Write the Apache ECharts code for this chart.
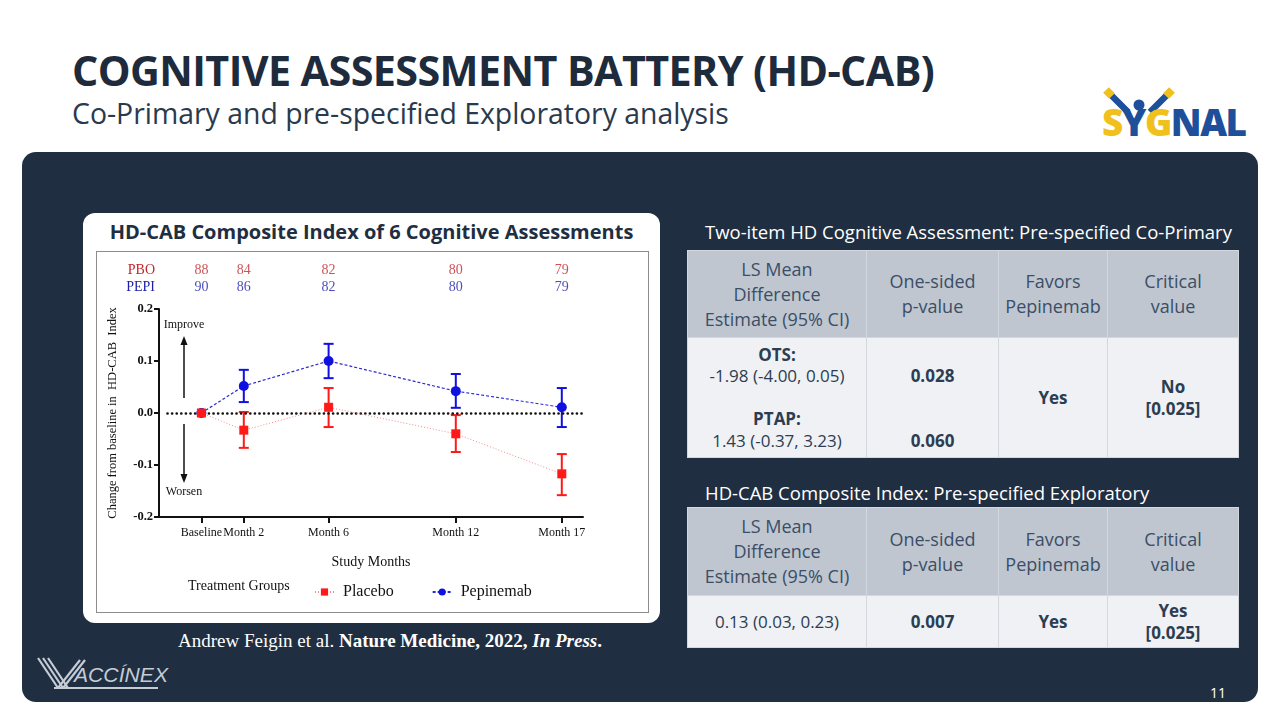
<!DOCTYPE html>
<html><head><meta charset="utf-8">
<script src="https://cdn.jsdelivr.net/npm/echarts@6/dist/echarts.min.js"></script>
<style>
body{margin:0;width:1280px;height:720px;position:relative;background:#fff;overflow:hidden;font-family:"Open Sans",sans-serif;}
.abs{position:absolute;}
#title{left:72px;top:42px;font-size:41.3px;font-weight:700;color:#1e2b3c;letter-spacing:-0.6px;white-space:nowrap;}
#sub{left:72px;top:94px;font-size:28.4px;color:#2a3a4e;white-space:nowrap;}
#panel{left:22px;top:152px;width:1236px;height:550px;background:#1f2e41;border-radius:14px;}
#card{left:83px;top:213px;width:577px;height:410px;background:#fff;border-radius:12px;}
#cardtitle{left:83px;top:218px;width:577px;text-align:center;font-size:20px;font-weight:700;color:#1f2e41;white-space:nowrap;}
#box{left:96px;top:251px;width:551px;height:360px;border:1.5px solid #8c8c8c;}
#chart{position:absolute;left:0;top:0;width:551px;height:360px;}
.hd{color:#fff;font-size:18.5px;white-space:nowrap;}
table{position:absolute;border-collapse:collapse;table-layout:fixed;width:551px;left:687px;font-family:"Open Sans",sans-serif;}
th{background:#bfc6d0;color:#3b4e66;font-weight:400;font-size:18px;line-height:25px;padding:0;}
td{background:#eff1f4;color:#2c3d52;font-size:17px;line-height:21.5px;padding:0;text-align:center;}
table,th,td{border:1px solid #d3d8de;}
b{font-weight:700;}
#cite{left:178px;top:630px;font-family:"Liberation Serif",serif;font-size:19px;color:#fff;white-space:nowrap;}
#pg{left:1210px;top:683px;color:#fff;font-size:14px;}
#signal{left:1102px;top:100px;font-family:"Open Sans",sans-serif;font-weight:800;font-size:37px;letter-spacing:-1.5px;white-space:nowrap;line-height:44px;}
</style></head>
<body>
<div id="title" class="abs">COGNITIVE ASSESSMENT BATTERY (HD-CAB)</div>
<div id="sub" class="abs">Co-Primary and pre-specified Exploratory analysis</div>
<svg class="abs" style="left:1100px;top:86px" width="90" height="30" viewBox="0 0 90 30">
<path d="M10 8 L28 26 M68 8 L50 26" stroke="#1d4f9a" stroke-width="6.5" fill="none"/>
<path d="M6 4 L12 10 M72 4 L66 10" stroke="#f0c01c" stroke-width="8" fill="none"/>
<circle cx="39" cy="19" r="5.5" fill="#1d4f9a"/>
</svg>
<div id="signal" class="abs"><span style="color:#f0c01c">S</span><span style="color:#1d4f9a">Y</span><span style="color:#f0c01c">G</span><span style="color:#1d4f9a">NAL</span></div>
<div id="panel" class="abs"></div>
<div id="card" class="abs"></div>
<div id="cardtitle" class="abs">HD-CAB Composite Index of 6 Cognitive Assessments</div>
<div id="box" class="abs"><div id="chart"></div></div>

<div class="abs hd" style="left:705px;top:219px;">Two-item HD Cognitive Assessment: Pre-specified Co-Primary</div>
<table style="top:250px;">
<colgroup><col style="width:179px"><col style="width:132px"><col style="width:109px"><col style="width:131px"></colgroup>
<tr style="height:87px"><th>LS Mean<br>Difference<br>Estimate (95% CI)</th><th>One-sided<br>p-value</th><th>Favors<br>Pepinemab</th><th>Critical<br>value</th></tr>
<tr style="height:120px"><td><b>OTS:</b><br>-1.98 (-4.00, 0.05)<br><br><b>PTAP:</b><br>1.43 (-0.37, 3.23)</td><td><br><b>0.028</b><br><br><br><b>0.060</b></td><td><b>Yes</b></td><td><b>No<br>[0.025]</b></td></tr>
</table>

<div class="abs hd" style="left:705px;top:480px;">HD-CAB Composite Index: Pre-specified Exploratory</div>
<table style="top:507px;">
<colgroup><col style="width:179px"><col style="width:132px"><col style="width:109px"><col style="width:131px"></colgroup>
<tr style="height:88px"><th>LS Mean<br>Difference<br>Estimate (95% CI)</th><th>One-sided<br>p-value</th><th>Favors<br>Pepinemab</th><th>Critical<br>value</th></tr>
<tr style="height:52px"><td>0.13 (0.03, 0.23)</td><td><b>0.007</b></td><td><b>Yes</b></td><td><b>Yes<br>[0.025]</b></td></tr>
</table>

<div id="cite" class="abs">Andrew Feigin et al. <b>Nature Medicine, 2022, <i>In Press</i>.</b></div>
<svg class="abs" style="left:36px;top:654px" width="140" height="40" viewBox="0 0 140 40">
<g stroke="#c5ccd6" stroke-width="2.2" fill="none">
<line x1="2" y1="4" x2="22" y2="34"/><line x1="7" y1="4" x2="27" y2="34"/><line x1="12" y1="4" x2="32" y2="34"/>
<line x1="22" y1="34" x2="44" y2="6"/><line x1="27" y1="34" x2="49" y2="6"/>
<line x1="18" y1="34" x2="122" y2="34"/>
</g>
<text x="38" y="28" font-family="Liberation Sans, sans-serif" font-style="italic" font-size="21" fill="#c5ccd6" textLength="94" lengthAdjust="spacingAndGlyphs">ACCÍNEX</text>
</svg>
<div id="pg" class="abs">11</div>

<script>
// ---- data ----
const months = [0, 2, 6, 12, 17];
const tickLabels = ['Baseline', 'Month 2', 'Month 6', 'Month 12', 'Month 17'];
const pboN = [88, 84, 82, 80, 79];
const pepiN = [90, 86, 82, 80, 79];
const placeboMean = [0, -0.033, 0.011, -0.040, -0.117];
const placeboLow  = [null, -0.067, -0.027, -0.075, -0.158];
const placeboHigh = [null, 0.002, 0.048, -0.004, -0.079];
const pepiMean = [0, 0.052, 0.100, 0.042, 0.011];
const pepiLow  = [null, 0.021, 0.067, 0.010, -0.027];
const pepiHigh = [null, 0.083, 0.133, 0.075, 0.048];

const SERIF = '"Liberation Serif", "Times New Roman", serif';
const RED = '#ff1a1a', BLUE = '#1010e0';
const RED_TXT = '#c0262a', BLUE_TXT = '#2020a6';

function pts(mean) { return months.map((m, i) => [m, mean[i]]); }
function bars(low, high) {
  const out = [];
  months.forEach((m, i) => { if (low[i] !== null) out.push([m, low[i], high[i]]); });
  return out;
}
function errRender(color) {
  return function (params, api) {
    const x = api.value(0);
    const lo = api.coord([x, api.value(1)]);
    const hi = api.coord([x, api.value(2)]);
    const w = 5;
    const st = { stroke: color, lineWidth: 2 };
    return { type: 'group', children: [
      { type: 'line', shape: { x1: lo[0], y1: lo[1], x2: hi[0], y2: hi[1] }, style: st },
      { type: 'line', shape: { x1: lo[0] - w, y1: lo[1], x2: lo[0] + w, y2: lo[1] }, style: st },
      { type: 'line', shape: { x1: hi[0] - w, y1: hi[1], x2: hi[0] + w, y2: hi[1] }, style: st }
    ]};
  };
}
const countRow = (name, arr) => months.map((m, i) => [m, name, arr[i]]);

const chart = echarts.init(document.getElementById('chart'));
chart.setOption({
  animation: false,
  textStyle: { fontFamily: SERIF },
  grid: [
    { left: 62, right: 65, top: 57, bottom: 95 },
    { left: 62, right: 65, top: 10, height: 34 }
  ],
  xAxis: [
    { type: 'value', gridIndex: 0, min: -2, max: 18,
      name: 'Study Months', nameLocation: 'middle', nameGap: 38,
      nameTextStyle: { fontFamily: SERIF, fontSize: 14, color: '#111' },
      axisLine: { onZero: false, lineStyle: { color: '#111', width: 2 } },
      axisTick: { show: true, customValues: months, length: 6, lineStyle: { color: '#111', width: 2 } },
      axisLabel: { customValues: months, color: '#111', fontFamily: SERIF, fontSize: 12, margin: 10,
        formatter: v => tickLabels[months.indexOf(v)] || '' },
      splitLine: { show: false } },
    { type: 'value', gridIndex: 1, min: -2, max: 18, show: false }
  ],
  yAxis: [
    { type: 'value', gridIndex: 0, min: -0.2, max: 0.2, interval: 0.1,
      name: 'Change from baseline in  HD-CAB  Index', nameLocation: 'middle', nameGap: 40,
      nameTextStyle: { fontFamily: SERIF, fontSize: 12.5, color: '#111' },
      axisLine: { show: true, onZero: false, lineStyle: { color: '#111', width: 2 } },
      axisTick: { show: true, length: 5, lineStyle: { color: '#111', width: 2 } },
      axisLabel: { color: '#111', fontFamily: SERIF, fontSize: 12.5, fontWeight: 'bold', margin: 6,
        formatter: v => (Math.abs(v) < 1e-9 ? 0 : v).toFixed(1) },
      splitLine: { show: false } },
    { type: 'category', gridIndex: 1, data: ['PEPI', 'PBO'],
      axisLine: { show: false }, axisTick: { show: false },
      axisLabel: { interval: 0, fontFamily: SERIF, fontSize: 14, margin: 4,
        color: (v) => v === 'PBO' ? RED_TXT : BLUE_TXT } }
  ],
  legend: {
    data: ['Placebo', 'Pepinemab'], left: 212, top: 327, itemGap: 38, itemWidth: 19, itemHeight: 9,
    textStyle: { fontFamily: SERIF, fontSize: 16, color: '#111', padding: [0, 0, 0, 4] }
  },
  graphic: [
    { type: 'text', left: 91, top: 327, style: { text: 'Treatment Groups', font: '14px ' + SERIF, fill: '#111' } },
    { type: 'text', x: 87, y: 73, style: { text: 'Improve', font: '12px ' + SERIF, fill: '#111', align: 'center', verticalAlign: 'middle' } },
    { type: 'line', shape: { x1: 87, y1: 146, x2: 87, y2: 90 }, style: { stroke: '#111', lineWidth: 1.5 } },
    { type: 'polygon', shape: { points: [[87, 84], [83.5, 93], [90.5, 93]] }, style: { fill: '#111' } },
    { type: 'line', shape: { x1: 87, y1: 172, x2: 87, y2: 225 }, style: { stroke: '#111', lineWidth: 1.5 } },
    { type: 'polygon', shape: { points: [[87, 231], [83.5, 222], [90.5, 222]] }, style: { fill: '#111' } },
    { type: 'text', x: 87, y: 240, style: { text: 'Worsen', font: '12px ' + SERIF, fill: '#111', align: 'center', verticalAlign: 'middle' } }
  ],
  series: [
    { name: 'Pepinemab', type: 'line', xAxisIndex: 0, yAxisIndex: 0, data: pts(pepiMean),
      symbol: 'circle', symbolSize: 10, z: 3,
      itemStyle: { color: BLUE },
      lineStyle: { color: '#2b2bd0', width: 1.2, type: [3, 2] },
      markLine: { silent: true, symbol: 'none', label: { show: false },
        lineStyle: { color: '#111', type: [0.1, 4.5], cap: 'round', width: 2.6 },
        data: [[{ xAxis: -1.6, yAxis: 0 }, { xAxis: 18, yAxis: 0 }]] } },
    { type: 'custom', xAxisIndex: 0, yAxisIndex: 0, data: bars(pepiLow, pepiHigh),
      renderItem: errRender(BLUE), z: 4 },
    { name: 'Placebo', type: 'line', xAxisIndex: 0, yAxisIndex: 0, data: pts(placeboMean),
      symbol: 'rect', symbolSize: 9, z: 5,
      itemStyle: { color: RED },
      lineStyle: { color: '#f08a8a', width: 1, type: [1, 2] } },
    { type: 'custom', xAxisIndex: 0, yAxisIndex: 0, data: bars(placeboLow, placeboHigh),
      renderItem: errRender(RED), z: 4 },
    { type: 'scatter', xAxisIndex: 1, yAxisIndex: 1, data: countRow('PBO', pboN), symbolSize: 1,
      itemStyle: { color: 'transparent' },
      label: { show: true, position: 'inside', formatter: p => p.value[2], fontFamily: SERIF, fontSize: 14, color: RED_TXT } },
    { type: 'scatter', xAxisIndex: 1, yAxisIndex: 1, data: countRow('PEPI', pepiN), symbolSize: 1,
      itemStyle: { color: 'transparent' },
      label: { show: true, position: 'inside', formatter: p => p.value[2], fontFamily: SERIF, fontSize: 14, color: BLUE_TXT } }
  ]
});
</script>
</body></html>
